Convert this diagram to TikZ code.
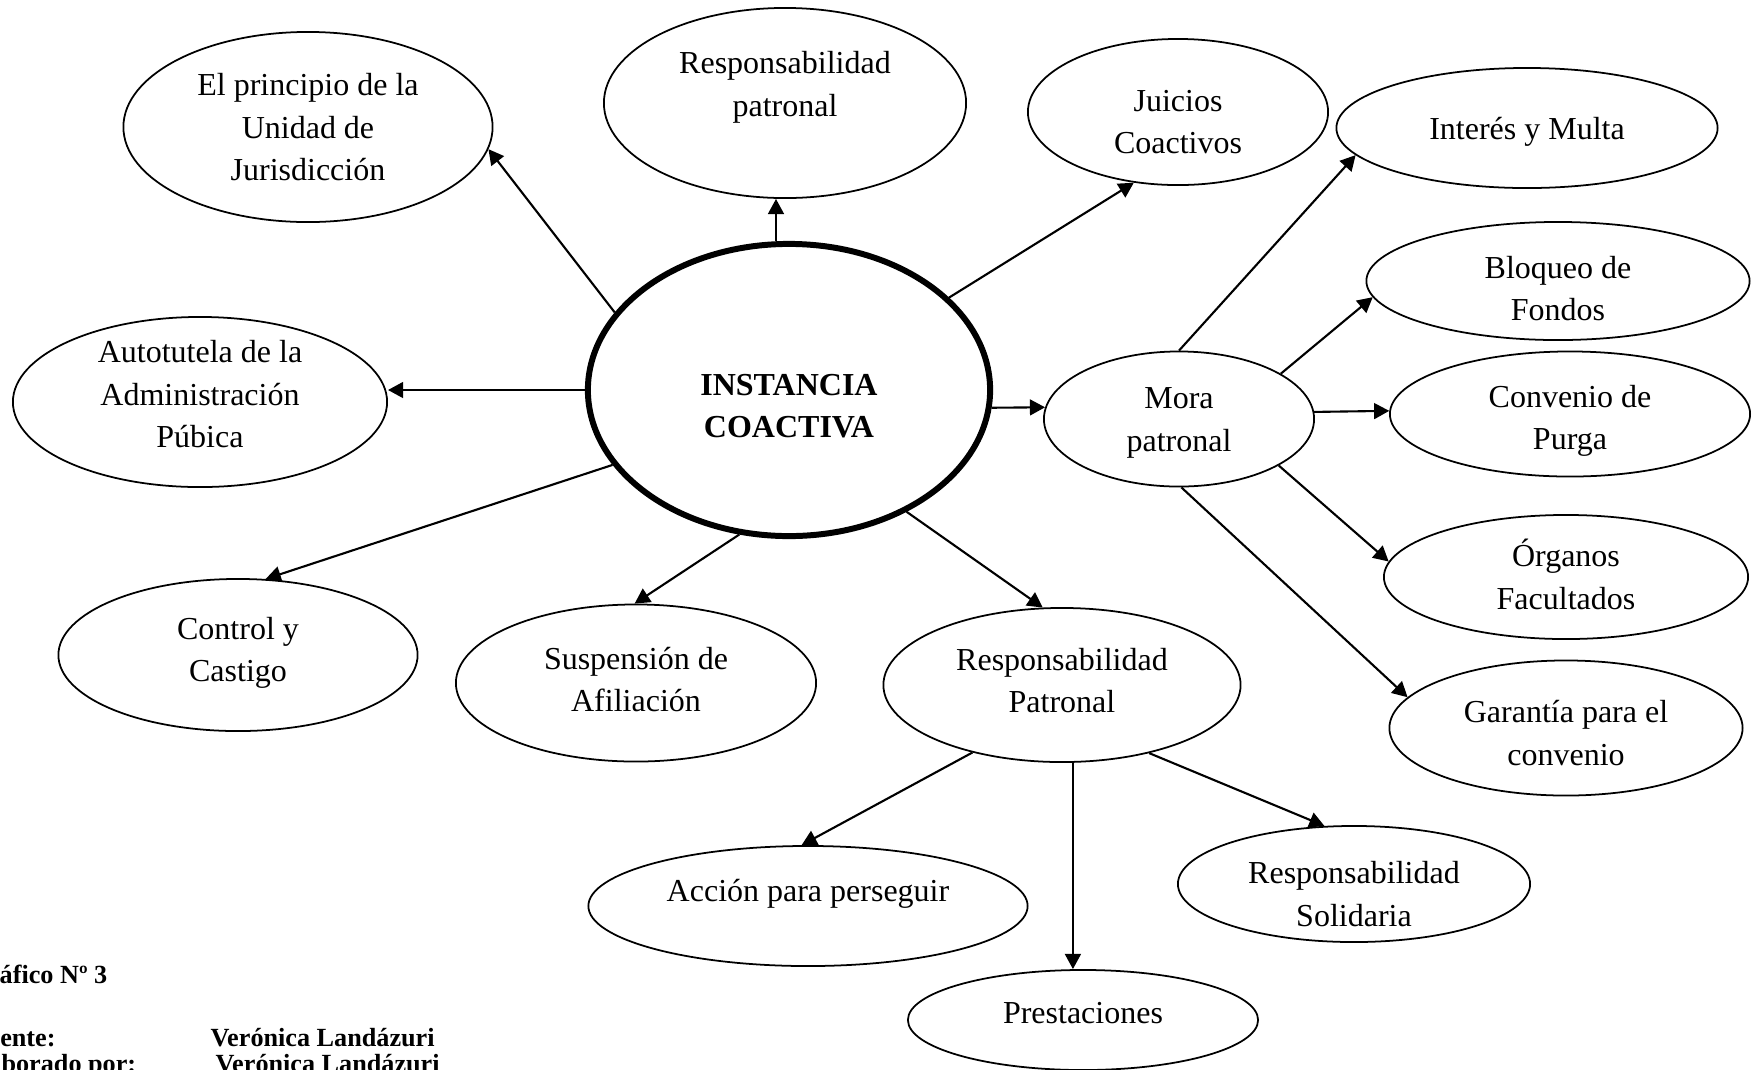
\documentclass[tikz,border=0pt]{standalone}
\usepackage{fontspec}
\setmainfont{Liberation Serif}
\usetikzlibrary{shapes.geometric,arrows.meta}

\newcommand\ctext[2][0pt]{\makebox[0pt]{\smash{\raisebox{\dimexpr-3pt-#1\relax}{\begin{tabular}{@{}c@{}}#2\end{tabular}}}}}

\begin{document}
\begin{tikzpicture}
    [ x=0.01cm, y=-0.01cm
    , bubble/.style={ellipse, draw, line width=0.5pt, inner sep=0pt, font=\fontsize{9.1}{12}\selectfont}
    , core/.style={bubble, line width=1.7pt, font=\fontsize{9.1}{12}\selectfont\bfseries}
    , link/.style={-{Triangle[length=4.3pt,width=4.5pt]}, line width=0.6pt}
    , note/.style={anchor=base west, inner sep=0pt, font=\fontsize{7.45}{9}\selectfont\bfseries}
    ]
  \useasboundingbox (0,0) rectangle (1757,1069);
  \clip (0,0) rectangle (1757,1069);

  \node[core, minimum width=4.02cm, minimum height=2.92cm] (c) at (789,390) {\ctext[4.3pt]{INSTANCIA\\COACTIVA}};

  \node[bubble, minimum width=3.69cm, minimum height=1.90cm] (ep) at (308,127) {\ctext{El principio de la\\Unidad de\\Jurisdicción}};
  \node[bubble, minimum width=3.62cm, minimum height=1.90cm] (rpt) at (785,103) {\ctext[-5.4pt]{Responsabilidad\\patronal}};
  \node[bubble, minimum width=3.00cm, minimum height=1.46cm] (jc) at (1178,112) {\ctext[2.6pt]{Juicios\\Coactivos}};
  \node[bubble, minimum width=3.74cm, minimum height=1.70cm] (at) at (200,402) {\ctext[-2.3pt]{Autotutela de la\\Administración\\Púbica}};
  \node[bubble, minimum width=3.59cm, minimum height=1.52cm] (cc) at (238,655) {\ctext[-1.6pt]{Control y\\Castigo}};
  \node[bubble, minimum width=3.60cm, minimum height=1.57cm] (sa) at (636,683) {\ctext[-1pt]{Suspensión de\\Afiliación}};
  \node[bubble, minimum width=3.57cm, minimum height=1.54cm] (rp) at (1062,685) {\ctext[-1.3pt]{Responsabilidad\\Patronal}};

  \node[bubble, minimum width=2.70cm, minimum height=1.35cm] (mp) at (1179,419) {\ctext{Mora\\patronal}};
  \node[bubble, minimum width=3.81cm, minimum height=1.20cm] (im) at (1527,128) {\ctext{Interés y Multa}};
  \node[bubble, minimum width=3.83cm, minimum height=1.18cm] (bf) at (1558,281) {\ctext[2pt]{Bloqueo de\\Fondos}};
  \node[bubble, minimum width=3.60cm, minimum height=1.25cm] (cp) at (1570,414) {\ctext[1pt]{Convenio de\\Purga}};
  \node[bubble, minimum width=3.64cm, minimum height=1.24cm] (of) at (1566,577) {\ctext{Órganos\\Facultados}};
  \node[bubble, minimum width=3.53cm, minimum height=1.35cm] (gc) at (1566,728) {\ctext[1.4pt]{Garantía para el\\convenio}};

  \node[bubble, minimum width=4.39cm, minimum height=1.20cm] (ap) at (808,906) {\ctext[-4.3pt]{Acción para perseguir}};
  \node[bubble, minimum width=3.50cm, minimum height=1.00cm] (pr) at (1083,1020) {\ctext[-2.3pt]{Prestaciones}};
  \node[bubble, minimum width=3.52cm, minimum height=1.16cm] (rs) at (1354,884) {\ctext[2.8pt]{Responsabilidad\\Solidaria}};

  \draw[link] (c.156.9) -- (ep.-7);
  \draw[link] (c.95) -- (c.95 |- rpt.south);
  \draw[link] (c.30.5) -- (jc.238.4);
  \draw[link] (c.west) -- (c.west -| at.east);
  \draw[link] (c.-5) -- (mp.175);
  \draw[link] (c.203.7) -- (cc.70.9);
  \draw[link] (c.251.1) -- (sa.91);
  \draw[link] (c.-46.9) -- (rp.104.6);

  \draw[link] (mp.90) -- (im.189.5);
  \draw[link] (mp.24.9) -- (bf.185.7);
  \draw[link] (mp.3) -- (cp.179);
  \draw[link] (mp.-25.9) -- (of.175);
  \draw[link] (mp.-88) -- (gc.169.5);

  \draw[link] (rp.217.8) -- (ap.96.7);
  \draw[link] (rp.-82) -- (rp.-82 |- pr.north);
  \draw[link] (rp.-38.2) -- (rs.117);

  \node[note] (gr) at (-33,983) {Gráfico Nº 3};
  \node[note] (fu) at (-31,1046) {Fuente:};
  \node[note] (fv) at (210,1046) {Verónica Landázuri};
  \node[note] (eb) at (-37,1072) {Elaborado por:};
  \node[note] (ev) at (215,1072) {Verónica Landázuri};
\end{tikzpicture}
\end{document}
